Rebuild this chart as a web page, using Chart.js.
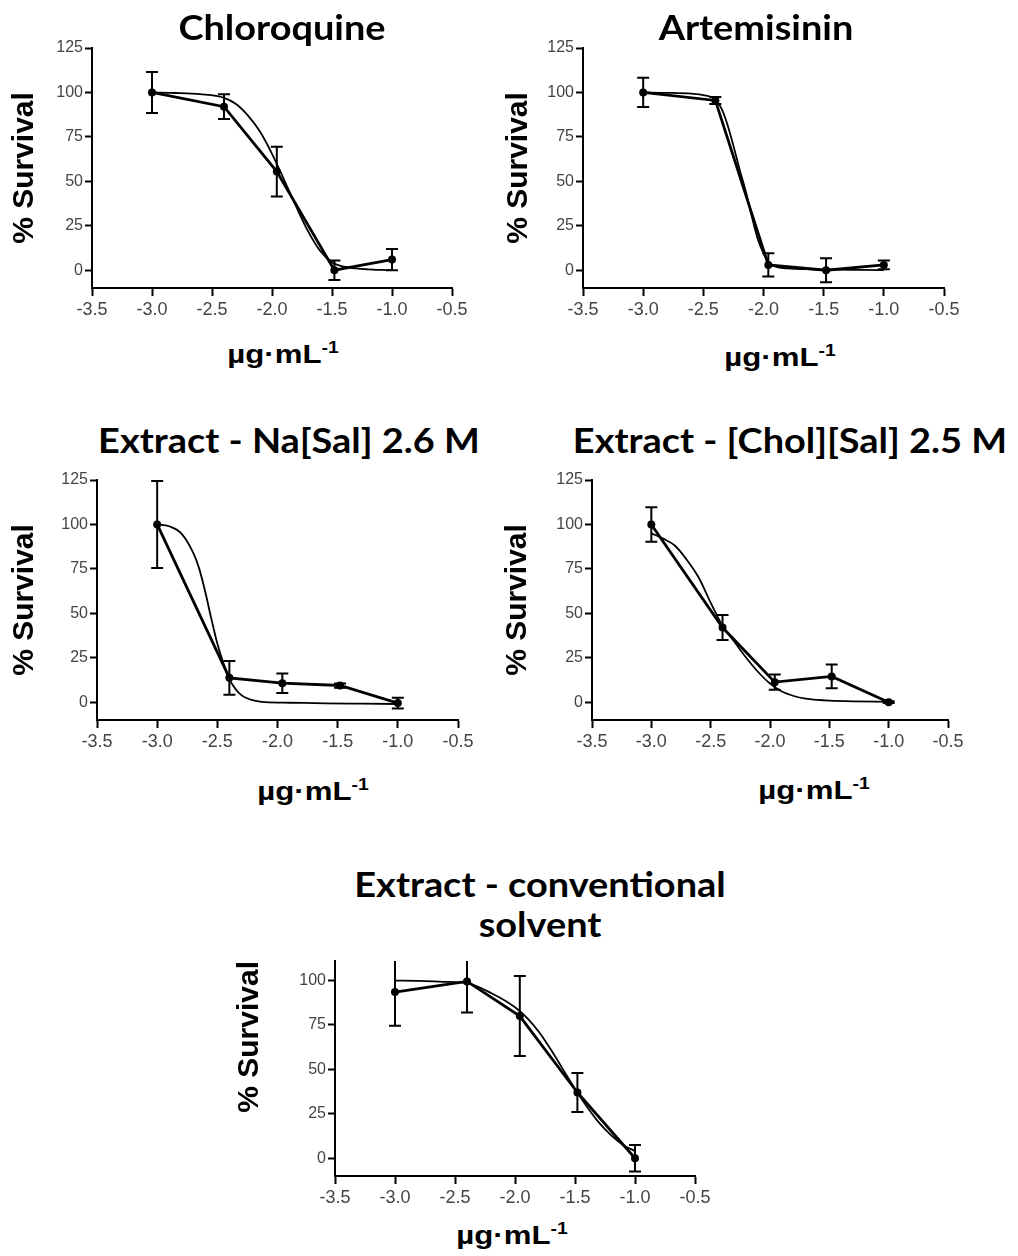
<!DOCTYPE html>
<html>
<head>
<meta charset="utf-8">
<script src="https://cdn.jsdelivr.net/npm/chart.js@4.4.1/dist/chart.umd.min.js"></script>
<style>
  html, body { margin: 0; padding: 0; background: #fff; overflow: hidden; }
  #page { position: relative; width: 1018px; height: 1256px; overflow: hidden; }
  canvas { position: absolute; }
  .title {
    position: absolute; white-space: nowrap; text-align: center; color: #000;
    font-family: Lato, 'Open Sans', sans-serif; font-weight: 700; font-size: 34px; line-height: 40px;
    transform: translateX(-50%) scaleX(1.115);
  }
  .xtitle {
    position: absolute; white-space: nowrap; color: #000;
    font-family: 'Liberation Sans', Arial, sans-serif; font-weight: 700; font-size: 26px; line-height: 30px;
    transform: translateX(-50%) scaleX(1.2);
  }
  .xtitle sup { font-size: 0.62em; vertical-align: 0.6em; line-height: 0; }
</style>
</head>
<body>
<div id="page"></div>
<script>
// log10 dose, shared by all five assays
const doseLog = [-3.0, -2.4, -1.96, -1.48, -1.0];
const xTicks = [-3.5, -3.0, -2.5, -2.0, -1.5, -1.0, -0.5];
const yTicks = [0, 25, 50, 75, 100, 125];
const yTicksShort = [0, 25, 50, 75, 100];

const titles = ['Chloroquine', 'Artemisinin', 'Extract - Na[Sal] 2.6 M',
  'Extract - [Chol][Sal] 2.5 M', ['Extract - conventional', 'solvent']];

// mean % survival and SD
const chloroMean = [100, 92, 55.5, 0, 6];
const chloroSd = [11.5, 7, 14, 5.5, 6];
const artemMean = [100, 95.5, 3, 0, 3];
const artemSd = [8.2, 2, 6.5, 6.8, 2.5];
const naSalMean = [100, 13.7, 10.7, 9.4, -0.5];
const naSalSd = [24.5, 9.5, 5.5, 1.2, 3];
const cholSalMean = [100, 42, 11.3, 14.5, 0];
const cholSalSd = [9.7, 7, 4.3, 6.7, 0.5];
const convMean = [93.5, 99.5, 80, 37, 0];
const convSd = [19, 17.5, 22.5, 11, 7.5];

// fitted dose-response curves
const chloroFitX = [-3.0, -2.8, -2.6, -2.4, -2.3, -2.2, -2.1, -2.0, -1.9, -1.8, -1.7, -1.6, -1.5, -1.4, -1.3, -1.2, -1.1, -1.0];
const chloroFitY = [100, 99.7, 99, 97, 93.5, 87, 78, 65.5, 51, 36, 22, 11, 4.5, 2, 1, 0.5, 0.2, 0];
const artemFitX = [-3.0, -2.8, -2.6, -2.5, -2.4, -2.35, -2.3, -2.25, -2.2, -2.15, -2.1, -2.05, -2.0, -1.95, -1.9, -1.8, -1.6, -1.4, -1.2, -1.0];
const artemFitY = [100, 99.8, 99.3, 98.5, 96, 91, 82, 70, 57, 45, 31, 18, 9.5, 4, 2, 1, 0.5, 0.3, 0.2, 0.1];
const naSalFitX = [-3.0, -2.9, -2.8, -2.7, -2.65, -2.6, -2.55, -2.5, -2.45, -2.4, -2.35, -2.3, -2.2, -2.1, -1.9, -1.6, -1.3, -1.0];
const naSalFitY = [100, 99, 95, 84, 75, 62, 47, 33, 22, 13, 7.5, 4, 1, 0, -0.3, -0.6, -0.8, -1];
const cholSalFitX = [-3.0, -2.9, -2.8, -2.7, -2.6, -2.5, -2.4, -2.3, -2.2, -2.1, -2.0, -1.9, -1.8, -1.7, -1.6, -1.5, -1.3, -1.0];
const cholSalFitY = [95, 92, 88, 80, 70, 56, 43, 34, 25, 17, 10.5, 6, 3.5, 2, 1.3, 0.9, 0.5, 0.2];
const convFitX = [-3.0, -2.8, -2.6, -2.4, -2.2, -2.0, -1.9, -1.8, -1.7, -1.6, -1.5, -1.4, -1.3, -1.2, -1.1, -1.0];
const convFitY = [100, 99.8, 99.3, 98.5, 93, 85, 79, 71, 61, 50, 39, 29, 20, 13, 7.5, 4];

// error bars drawn through the chart's own scales
const errorBars = {
  id: 'errorBars',
  afterDatasetsDraw(chart) {
    const {ctx, chartArea, scales: {x, y}} = chart;
    chart.data.datasets.forEach((ds) => {
      if (!ds.errors) return;
      ctx.save();
      ctx.beginPath();
      ctx.rect(chartArea.left, chartArea.top, chartArea.right - chartArea.left, chartArea.bottom - chartArea.top);
      ctx.clip();
      ctx.strokeStyle = '#000';
      ctx.lineWidth = 2;
      ds.data.forEach((pt, j) => {
        const px = x.getPixelForValue(pt.x);
        const top = y.getPixelForValue(pt.y + ds.errors[j]);
        const bot = y.getPixelForValue(pt.y - ds.errors[j]);
        ctx.beginPath();
        ctx.moveTo(px, top); ctx.lineTo(px, bot);
        ctx.moveTo(px - 6, top); ctx.lineTo(px + 6, top);
        ctx.moveTo(px - 6, bot); ctx.lineTo(px + 6, bot);
        ctx.stroke();
      });
      ctx.restore();
    });
  }
};

const page = document.getElementById('page');

function addText(cls, html, left, top) {
  const d = document.createElement('div');
  d.className = cls;
  d.innerHTML = html;
  d.style.left = left + 'px';
  d.style.top = top + 'px';
  page.appendChild(d);
}

function panel(p) {
  const canvasLeft = Math.round(p.yTitleX - 24.5);
  const top = p.area.t - 12;
  const cv = document.createElement('canvas');
  cv.width = p.area.r - canvasLeft + 20;
  cv.height = p.area.b - top + 40;
  cv.style.left = canvasLeft + 'px';
  cv.style.top = top + 'px';
  page.appendChild(cv);
  const yWidth = p.area.l - canvasLeft;

  const title = Array.isArray(p.title) ? p.title.join('<br>') : p.title;
  addText('title', title, p.titleX, p.titleMid - 21);
  addText('xtitle', '\u00b5g\u00b7mL<sup>-1</sup>', p.xTitleX, p.xTitleMid - 14.7);

  new Chart(cv, {
    type: 'scatter',
    data: {
      datasets: [
        {
          data: p.fitX.map((x, i) => ({x: x, y: p.fitY[i]})),
          showLine: true,
          borderColor: '#000',
          borderWidth: 1.8,
          pointRadius: 0,
          cubicInterpolationMode: 'monotone',
        },
        {
          data: doseLog.map((x, i) => ({x: x, y: p.mean[i]})),
          errors: p.sd,
          showLine: true,
          borderColor: '#000',
          borderWidth: 2.8,
          pointRadius: 4,
          pointBackgroundColor: '#000',
          pointBorderWidth: 0,
        },
      ],
    },
    options: {
      responsive: false,
      animation: false,
      devicePixelRatio: 1,
      layout: {padding: {top: 12, right: 20, bottom: 0, left: 0}},
      plugins: {legend: {display: false}, tooltip: {enabled: false}},
      scales: {
        x: {
          type: 'linear',
          min: -3.5,
          max: -0.5,
          afterBuildTicks: (s) => { s.ticks = xTicks.map((v) => ({value: v})); },
          afterFit: (s) => { s.height = 40; },
          grid: {drawOnChartArea: false, tickLength: 8, tickWidth: 2, tickColor: '#000'},
          border: {color: '#000', width: 2},
          ticks: {
            color: '#444', padding: 3,
            font: {family: "'Liberation Sans', Arial, sans-serif", size: 18},
            callback: (v) => Number(v).toFixed(1),
          },
        },
        y: {
          type: 'linear',
          min: -10,
          max: p.yMax,
          afterBuildTicks: (s) => { s.ticks = p.yTicks.map((v) => ({value: v})); },
          afterFit: (s) => { s.width = yWidth; },
          grid: {drawOnChartArea: false, tickLength: 7, tickWidth: 2, tickColor: '#000'},
          border: {color: '#000', width: 2},
          ticks: {
            color: '#444', padding: 2,
            font: {family: "'Liberation Sans', Arial, sans-serif", size: 16},
          },
          title: {
            display: true,
            text: '% Survival',
            color: '#000',
            align: p.yAlign || 'center',
            padding: {top: 6.5, bottom: 0},
            font: {family: "'Liberation Sans', Arial, sans-serif", size: 30, weight: 'bold'},
          },
        },
      },
    },
    plugins: [errorBars],
  });
}

panel({title: titles[0], titleX: 281.7, titleMid: 28.2, yTitleX: 24.5,
  area: {l: 92, r: 452, t: 48, b: 288}, yMax: 125, yTicks: yTicks,
  xTitleX: 283, xTitleMid: 354,
  mean: chloroMean, sd: chloroSd, fitX: chloroFitX, fitY: chloroFitY});

panel({title: titles[1], titleX: 756, titleMid: 28, yTitleX: 518,
  area: {l: 583, r: 944, t: 48, b: 288}, yMax: 125, yTicks: yTicks,
  xTitleX: 780, xTitleMid: 357,
  mean: artemMean, sd: artemSd, fitX: artemFitX, fitY: artemFitY});

panel({title: titles[2], titleX: 289, titleMid: 441.3, yTitleX: 24.5,
  area: {l: 97, r: 458, t: 480, b: 720}, yMax: 125, yTicks: yTicks,
  xTitleX: 313, xTitleMid: 791,
  mean: naSalMean, sd: naSalSd, fitX: naSalFitX, fitY: naSalFitY});

panel({title: titles[3], titleX: 790, titleMid: 441, yTitleX: 517.5,
  area: {l: 592, r: 948, t: 480, b: 720}, yMax: 125, yTicks: yTicks,
  xTitleX: 814, xTitleMid: 790,
  mean: cholSalMean, sd: cholSalSd, fitX: cholSalFitX, fitY: cholSalFitY});

panel({title: titles[4], titleX: 540, titleMid: 885.4, yTitleX: 249.5, yAlign: 'end',
  area: {l: 335, r: 695, t: 961, b: 1176}, yMax: 111, yTicks: yTicksShort,
  xTitleX: 512, xTitleMid: 1235,
  mean: convMean, sd: convSd, fitX: convFitX, fitY: convFitY});
</script>
</body>
</html>
